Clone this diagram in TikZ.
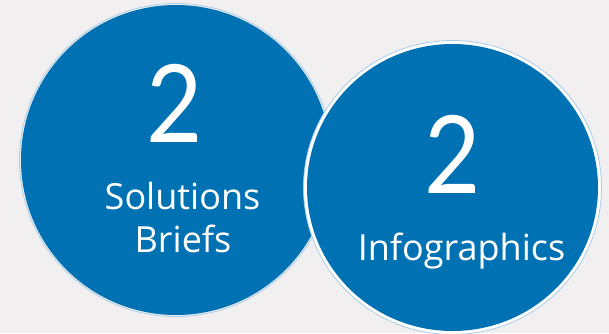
\documentclass[tikz,border=0pt]{standalone}
\usepackage{fontspec}
\setmainfont{Lato}
\newfontfamily\labelfont[Ligatures=NoCommon]{Open Sans}
\definecolor{bg}{HTML}{F1EFF0}
\definecolor{disc}{HTML}{0071B3}
\definecolor{rim}{HTML}{A9CDE6}
\newcommand{\narrowdigit}[1]{\scalebox{0.9}[1]{#1}}
\begin{document}
\begin{tikzpicture}[x=1pt,y=1pt,
  bignum/.style={text=white,anchor=base,inner sep=0pt,font=\fontsize{108}{108}\selectfont},
  label/.style={text=white,anchor=base,inner sep=0pt,font=\labelfont\fontsize{36}{36}\selectfont},
  rimline/.style={draw=rim,line width=0.8pt}]
\fill[bg] (0,0) rectangle (609,333);
\useasboundingbox (0,0) rectangle (609,333);
% circle 1
\draw[rimline] (176,173) circle (156.5);
\fill[disc] (176,173) circle (155);
% circle 2
\fill[white] (452.5,145.5) ellipse [x radius=149, y radius=147];
\draw[rimline] (452.5,145.5) ellipse [x radius=149, y radius=147];
\fill[disc] (452.5,145.5) ellipse [x radius=145.5, y radius=143.5];
\node[bignum] (n1) at (175,191) {\narrowdigit{2}};
\node[label] (s1) at (182.5,124) {Solutions};
\node[label] (s2) at (183,81) {Briefs};
\node[bignum] (n2) at (453,140) {\narrowdigit{2}};
\node[label] (s3) at (461.5,73) {Infographics};
\end{tikzpicture}
\end{document}
